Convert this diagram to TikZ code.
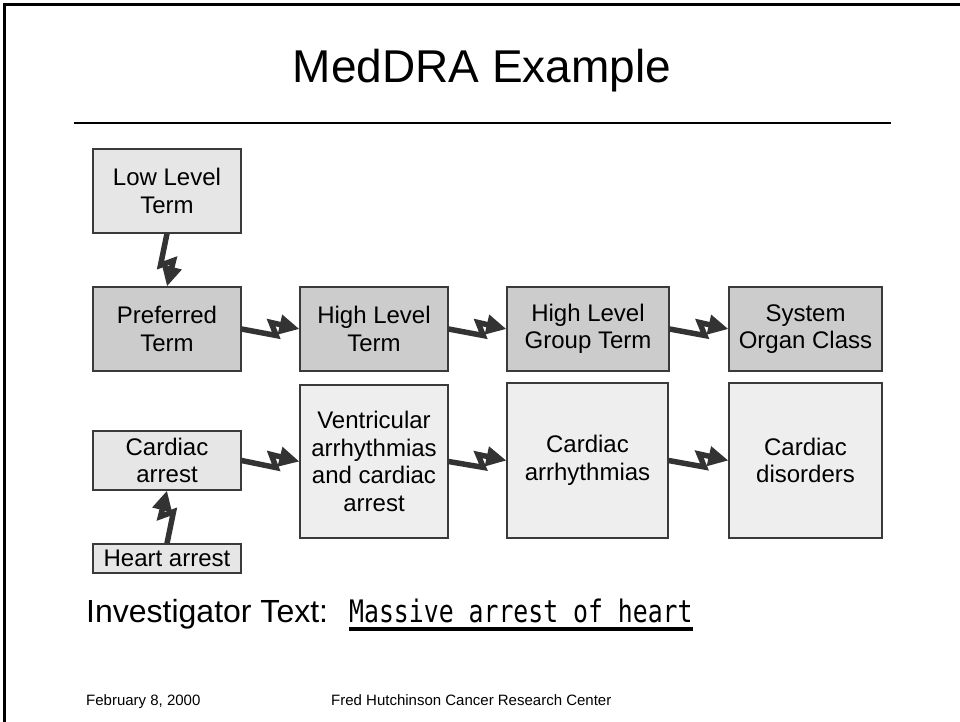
\documentclass[tikz,border=0pt]{standalone}
\usepackage{fontspec}
\setmainfont{Liberation Sans}
\newfontfamily\narrowmono[FakeStretch=0.8]{DejaVu Sans Mono}
\usetikzlibrary{arrows.meta,calc}
\definecolor{lowfill}{HTML}{E6E6E6}
\definecolor{midfill}{HTML}{CCCCCC}
\definecolor{botfill}{HTML}{EEEEEE}
\definecolor{boltc}{HTML}{333333}
\definecolor{edgec}{HTML}{3A3A3A}
\begin{document}
\begin{tikzpicture}[x=1pt,y=1pt,
  box/.style={draw=edgec, line width=1.2pt, inner sep=0pt, align=center,
    font=\fontsize{24}{27.5}\selectfont, text=black},
  bolt/.style={draw=boltc, line width=5.5pt, line join=miter, line cap=butt,
    -{Triangle[length=20pt,width=19pt]},
    to path={-- ($(\tikztostart)!0.6!(\tikztotarget)!6.5pt!-90:(\tikztotarget)$)
             -- ($(\tikztostart)!0.51!(\tikztotarget)!6.5pt!90:(\tikztotarget)$)
             -- (\tikztotarget)}},
  plain/.style={inner sep=0pt, text=black}]
\fill[white] (0,0) rectangle (960,-721);
\useasboundingbox (0,0) rectangle (960,-721);
% frame
\draw[line width=2.4pt] (4.5,-725) -- (4.5,-4.5) -- (965,-4.5);
% title and rule
\node[plain, anchor=base, font=\fontsize{46}{50}\selectfont] (title) at (482,-82) {MedDRA Example};
\draw[line width=1.3pt] (74,-123) -- (891,-123);
% boxes
\node[box, fill=lowfill, minimum width=148pt, minimum height=84pt] (llt) at (167,-191) {Low Level\\Term};
\node[box, fill=midfill, minimum width=148pt, minimum height=84pt] (pt) at (167,-329) {Preferred\\Term};
\node[box, fill=midfill, minimum width=148pt, minimum height=84pt] (hlt) at (374,-329) {High Level\\Term};
\node[box, fill=midfill, minimum width=162pt, minimum height=84pt] (hlgt) at (588,-329) {High Level\\Group Term};
\node[box, fill=midfill, minimum width=153pt, minimum height=84pt] (soc) at (805.5,-329) {System\\Organ Class};
\node[box, fill=lowfill, minimum width=148pt, minimum height=59pt] (ca) at (167,-460.5) {Cardiac\\arrest};
\node[box, fill=lowfill, minimum width=148pt, minimum height=29pt] (ha) at (167,-558.5) {Heart arrest};
\node[box, fill=botfill, minimum width=148pt, minimum height=153pt] (va) at (374,-461.5) {Ventricular\\arrhythmias\\and cardiac\\arrest};
\node[box, fill=botfill, minimum width=161pt, minimum height=155pt] (carr) at (587.5,-460.5) {Cardiac\\arrhythmias};
\node[box, fill=botfill, minimum width=153pt, minimum height=155pt] (cd) at (805.5,-460.5) {Cardiac\\disorders};
% lightning connectors
\draw[bolt] (llt.south) to (pt.north);
\draw[bolt] (pt.east) to (hlt.west);
\draw[bolt] (hlt.east) to (hlgt.west);
\draw[bolt] (hlgt.east) to (soc.west);
\draw[bolt] (ca.east) to (va.west);
\draw[bolt] (va.east) to (carr.west);
\draw[bolt] (carr.east) to (cd.west);
\draw[bolt] (ha.north) to (ca.south);
% investigator text
\node[plain, anchor=base west, font=\fontsize{32}{37}\selectfont] (inv) at (86,-622) {Investigator Text:};
\node[plain, anchor=base west, font=\narrowmono\fontsize{31}{36}\selectfont] (mah) at (349,-622) {Massive arrest of heart};
\draw[line width=3.5pt] ([yshift=-7pt]mah.base west) -- ([yshift=-7pt]mah.base east);
% footer
\node[plain, anchor=base west, font=\fontsize{15}{18}\selectfont] (date) at (86,-705) {February 8, 2000};
\node[plain, anchor=base west, font=\fontsize{15}{18}\selectfont] (org) at (331,-705) {Fred Hutchinson Cancer Research Center};
\end{tikzpicture}
\end{document}
